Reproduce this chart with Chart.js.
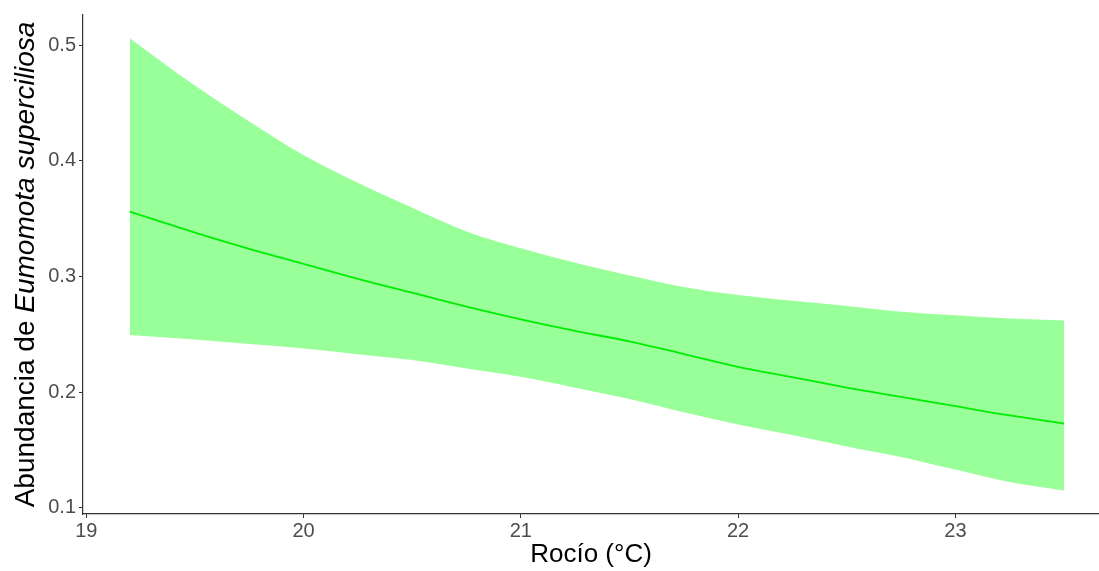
<!DOCTYPE html>
<html>
<head>
<meta charset="utf-8">
<title>Abundancia vs Rocío</title>
<script src="https://cdn.jsdelivr.net/npm/chart.js@4"></script>
<style>
  html, body { margin: 0; padding: 0; background: #fff; }
  #wrap { width: 1099px; height: 571px; position: relative; }
</style>
</head>
<body>
<div id="wrap"><canvas id="dewChart"></canvas></div>
<script>
// dew point (°C) and fitted abundance with its confidence band
const rocio = [19.2, 19.5, 19.75, 20, 20.25, 20.5, 20.75, 21, 21.25, 21.5, 21.75, 22, 22.25, 22.5, 22.75, 23, 23.25, 23.5];
const ajuste = [0.356, 0.338, 0.324, 0.311, 0.298, 0.286, 0.274, 0.263, 0.253, 0.244, 0.233, 0.222, 0.213, 0.204, 0.196, 0.188, 0.180, 0.173];
const superior = [0.506, 0.465, 0.434, 0.405, 0.381, 0.3595, 0.339, 0.3245, 0.312, 0.301, 0.291, 0.284, 0.279, 0.2745, 0.2695, 0.2665, 0.2638, 0.262];
const inferior = [0.2495, 0.2455, 0.2416, 0.2378, 0.2328, 0.2278, 0.2205, 0.2133, 0.2040, 0.1942, 0.1827, 0.1721, 0.1630, 0.1532, 0.1441, 0.1332, 0.1224, 0.115];
const xTicks = [19, 20, 21, 22, 23];
const yTicks = [0.1, 0.2, 0.3, 0.4, 0.5];

const FONT = "'Liberation Sans', Arial, sans-serif";
const pts = arr => arr.map((v, i) => ({ x: rocio[i], y: v }));

// y-axis title with the species name in italics
const yTitle = {
  id: 'yTitle',
  afterDraw(chart) {
    const ctx = chart.ctx;
    const a = chart.chartArea;
    const parts = [
      { t: 'Abundancia de ', f: '28px ' + FONT },
      { t: 'Eumomota superciliosa', f: 'italic 28px ' + FONT }
    ];
    let total = 0;
    parts.forEach(p => { ctx.font = p.f; p.w = ctx.measureText(p.t).width; total += p.w; });
    ctx.save();
    ctx.translate(34, (a.top + a.bottom) / 2);
    ctx.rotate(-Math.PI / 2);
    ctx.fillStyle = '#000';
    ctx.textBaseline = 'alphabetic';
    ctx.textAlign = 'left';
    let x = -total / 2;
    parts.forEach(p => { ctx.font = p.f; ctx.fillText(p.t, x, 0); x += p.w; });
    ctx.restore();
  }
};

new Chart(document.getElementById('dewChart'), {
  type: 'line',
  data: {
    datasets: [
      {
        data: pts(ajuste),
        borderColor: '#00ee00',
        borderWidth: 1.8,
        pointRadius: 0,
        cubicInterpolationMode: 'monotone',
        fill: false
      },
      {
        data: pts(superior),
        borderWidth: 0,
        pointRadius: 0,
        backgroundColor: '#99ff99',
        cubicInterpolationMode: 'monotone',
        fill: 2
      },
      {
        data: pts(inferior),
        borderWidth: 0,
        pointRadius: 0,
        cubicInterpolationMode: 'monotone',
        fill: false
      }
    ]
  },
  options: {
    responsive: true,
    maintainAspectRatio: false,
    animation: false,
    layout: { padding: { top: 14, right: 0, bottom: 0, left: 0 } },
    plugins: { legend: { display: false }, tooltip: { enabled: false } },
    scales: {
      x: {
        type: 'linear',
        min: 18.985,
        max: 23.661,
        afterFit: s => { s.height = 57; },
        afterBuildTicks: s => { s.ticks = xTicks.map(v => ({ value: v })); },
        border: { display: true, color: '#333333', width: 1.2 },
        grid: { display: true, drawOnChartArea: false, drawTicks: true, tickLength: 4, color: '#333333' },
        ticks: {
          color: '#4d4d4d',
          font: { family: FONT, size: 20 },
          padding: 1,
          maxRotation: 0,
          callback: v => String(v)
        },
        title: {
          display: true,
          text: 'Rocío (°C)',
          color: '#000',
          font: { family: FONT, size: 26 },
          padding: { top: 0, bottom: 1 }
        }
      },
      y: {
        type: 'linear',
        min: 0.0948,
        max: 0.526,
        afterFit: s => { s.width = 83; },
        afterBuildTicks: s => { s.ticks = yTicks.map(v => ({ value: v })); },
        border: { display: true, color: '#333333', width: 1.2 },
        grid: { display: true, drawOnChartArea: false, drawTicks: true, tickLength: 4, color: '#333333' },
        ticks: {
          color: '#4d4d4d',
          font: { family: FONT, size: 20 },
          padding: 3,
          callback: v => v.toFixed(1)
        }
      }
    }
  },
  plugins: [yTitle]
});
</script>
</body>
</html>
